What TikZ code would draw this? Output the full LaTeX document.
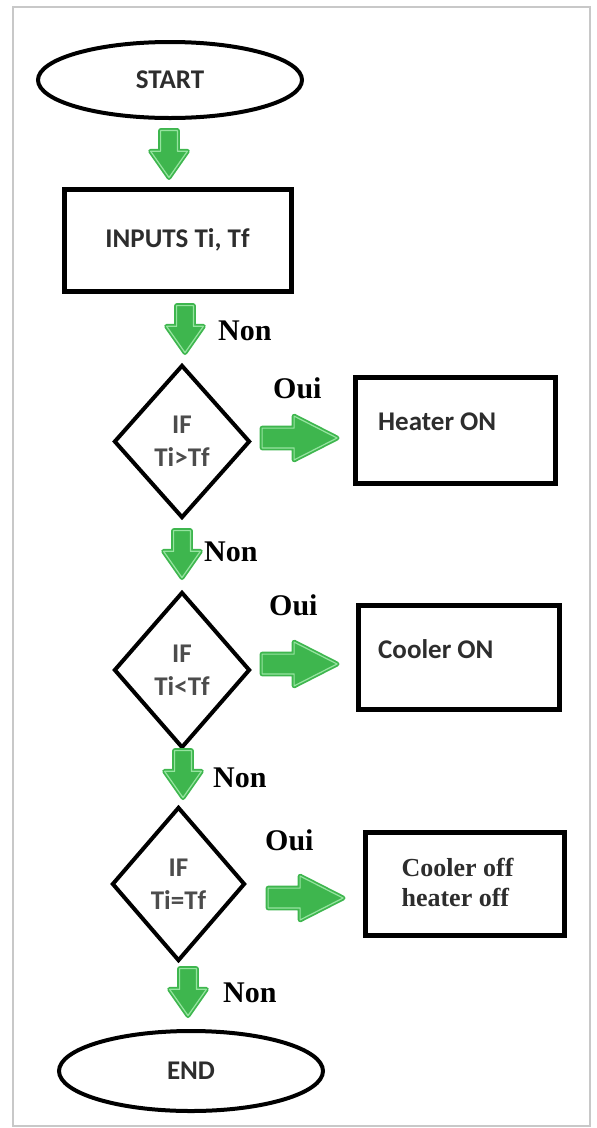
\documentclass[tikz,border=0pt]{standalone}
\usepackage{fontspec}
\setmainfont{Liberation Serif}
\newfontfamily\calfont{Carlito}
\usetikzlibrary{shapes.geometric,shapes.arrows,calc}
\definecolor{gfill}{RGB}{62,182,78}
\definecolor{glight}{RGB}{150,228,160}
\definecolor{txt}{RGB}{45,45,45}
\definecolor{frame}{RGB}{200,200,200}
\begin{document}
\begin{tikzpicture}[x=1pt,y=-1pt,
 term/.style={ellipse, draw, line width=4pt, inner sep=0pt, font=\calfont\bfseries\fontsize{27}{30}\selectfont, text=txt},
 procbox/.style={rectangle, draw, line width=5pt, inner sep=0pt},
 decision/.style={diamond, draw, line width=4pt, inner sep=0pt, align=center, font=\calfont\bfseries\fontsize{27}{33}\selectfont, text=txt!85},
 boxtext/.style={anchor=base west, inner sep=0pt, font=\calfont\bfseries\fontsize{27}{30}\selectfont, text=txt},
 lbl/.style={anchor=base west, inner sep=0pt, font=\bfseries\fontsize{30}{34}\selectfont},
 garrow/.style={single arrow, fill=gfill, draw=gfill, double=glight, line width=1.8pt, double distance=1.2pt, line join=round, inner sep=0pt, outer sep=0pt, text depth=0pt, anchor=tip},
 gdown/.style={garrow, rotate=-90, text height=15pt, minimum height=47pt, single arrow head extend=10pt, single arrow tip angle=70},
 gright/.style={garrow, text height=18pt, minimum height=75pt, single arrow head extend=12pt, single arrow tip angle=54}
]
\useasboundingbox (0,0) rectangle (597,1128);
\draw[frame, line width=1.5pt] (13,7) rectangle (590,1126);

\node[term, minimum width=264pt, minimum height=76pt] (start) at (170,80) {START};
\node[procbox, minimum width=227pt, minimum height=102pt, font=\calfont\bfseries\fontsize{27}{30}\selectfont, text=txt] (inputs) at (177.5,240) {INPUTS Ti, Tf};
\node[decision, minimum width=136pt, minimum height=153pt] (d1) at (182,441.5) {IF\\Ti>Tf};
\node[decision, minimum width=136pt, minimum height=156pt] (d2) at (182,670) {IF\\Ti<Tf};
\node[decision, minimum width=133pt, minimum height=154pt] (d3) at (178.5,884) {IF\\Ti=Tf};
\node[procbox, minimum width=200pt, minimum height=106pt] (heater) at (455.5,430.5) {};
\node[procbox, minimum width=201pt, minimum height=104pt] (cooler) at (459,657.5) {};
\node[procbox, minimum width=199pt, minimum height=103pt] (both) at (465,884) {};
\node[term, minimum width=264pt, minimum height=80pt] (end) at (191,1071) {END};

\node[boxtext] (heatertxt) at (378,430) {Heater ON};
\node[boxtext] (coolertxt) at (378,658) {Cooler ON};
\node[inner sep=0pt, align=left, font=\bfseries\fontsize{26}{30}\selectfont, text=txt] (bothtxt) at (457.5,882) {Cooler off\\heater off};

\node[lbl] (non1) at (218,340) {Non};
\node[lbl] (oui1) at (273,398) {Oui};
\node[lbl] (non2) at (204,561) {Non};
\node[lbl] (oui2) at (269,615) {Oui};
\node[lbl] (non3) at (213,787) {Non};
\node[lbl] (oui3) at (265,850) {Oui};
\node[lbl] (non4) at (223,1002) {Non};

\node[gdown] (a1) at ($(inputs.north)+(-8.5,-9)$) {};
\node[gdown] (a2) at ($(d1.north)+(3,-10.4)$) {};
\node[gdown] (a3) at ($(d2.north)+(0,-12.4)$) {};
\node[gdown] (a4) at ($(d3.north)+(4.5,-7.4)$) {};
\node[gdown] (a5) at ($(end.north)+(-3,-13.4)$) {};
\node[gright] (r1) at ($(heater.west)+(-15.9,7.5)$) {};
\node[gright] (r2) at ($(cooler.west)+(-18.9,6.5)$) {};
\node[gright] (r3) at ($(both.west)+(-19.9,14)$) {};
\end{tikzpicture}
\end{document}
